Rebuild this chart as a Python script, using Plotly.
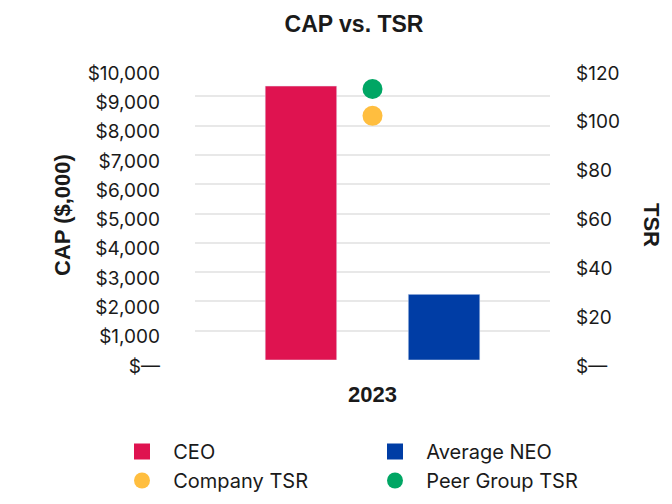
import plotly.graph_objects as go

years = ["2023"]
ceo_cap = [9350]
neo_cap = [2240]
company_tsr = [100]
peer_tsr = [111]

left_ticks = [0, 1000, 2000, 3000, 4000, 5000, 6000, 7000, 8000, 9000, 10000]
left_labels = ["$—", "$1,000", "$2,000", "$3,000", "$4,000", "$5,000", "$6,000",
               "$7,000", "$8,000", "$9,000", "$10,000"]
right_ticks = [0, 20, 40, 60, 80, 100, 120]
right_labels = ["$—", "$20", "$40", "$60", "$80", "$100", "$120"]

FONT = "Inter"
BOLD = "Liberation Sans"
TXT = "#1a1a1a"
C_CEO = "#DF1350"
C_NEO = "#003DA5"
C_CO = "#FFBE3F"
C_PEER = "#00A664"

OFF = 8  # default page body margin
W, H = 672, 504
PL, PR, PT, PB = 195, 550, 67, 360  # plot box in screen pixels
L, R, T, B = PL - OFF, W - (PR - OFF), PT - OFF, H - (PB - OFF)
PW, PH = PR - PL, PB - PT


def px(xs):
    return (xs - PL) / PW


def py(ys):
    return (PB - ys) / PH


fig = go.Figure()
fig.add_trace(go.Bar(x=years, y=ceo_cap, name="CEO", marker_color=C_CEO, showlegend=False))
fig.add_trace(go.Bar(x=years, y=neo_cap, name="Average NEO", marker_color=C_NEO, showlegend=False))
fig.add_trace(go.Scatter(x=years, y=company_tsr, name="Company TSR", mode="markers",
                         marker=dict(color=C_CO, size=20), yaxis="y2", showlegend=False))
fig.add_trace(go.Scatter(x=years, y=peer_tsr, name="Peer Group TSR", mode="markers",
                         marker=dict(color=C_PEER, size=20), yaxis="y2", showlegend=False))

# legend entries
PAD = "\u00a0\u00a0"
for name, col, sym in [("CEO", C_CEO, "square"), ("Average NEO", C_NEO, "square"),
                       ("Company TSR", C_CO, "circle"), ("Peer Group TSR", C_PEER, "circle")]:
    fig.add_trace(go.Scatter(x=[None], y=[None], mode="markers", name=PAD + name,
                             marker=dict(color=col, size=22, symbol=sym), showlegend=True))

fig.update_layout(
    width=W, height=H,
    margin=dict(l=L, r=R, t=T, b=B, autoexpand=False),
    paper_bgcolor="white", plot_bgcolor="white",
    font=dict(family=FONT, size=19, color=TXT),
    title=dict(text="<b>CAP vs. TSR</b>", x=(354 - OFF) / W, xref="container", xanchor="center",
               y=1 - (24 - OFF) / H, yref="container", yanchor="middle",
               font=dict(family=BOLD, size=23)),
    barmode="group", bargap=0.194, bargroupgap=0.5,
    xaxis=dict(type="category", showgrid=False, showline=False, ticks="",
               tickfont=dict(family=BOLD, size=22), ticklabelstandoff=19,
               tickvals=years, ticktext=["<b>2023</b>"]),
    yaxis=dict(range=[0, 10000], tickvals=left_ticks, ticktext=left_labels,
               showgrid=True, gridcolor="#e8e8e8", gridwidth=2, zeroline=False,
               showline=False, ticks="", ticklabelstandoff=34, ticklabelshift=6),
    yaxis2=dict(range=[0, 120], overlaying="y", side="right", tickvals=right_ticks,
                ticktext=right_labels, showgrid=False, zeroline=False, showline=False,
                ticks="", ticklabelstandoff=25, ticklabelshift=6),
    legend=dict(orientation="h", x=px(122), xanchor="left", y=py(432), yanchor="top",
                entrywidth=208, entrywidthmode="pixels", font=dict(size=20),
                itemsizing="trace", tracegroupgap=0),
    annotations=[
        dict(text="<b>CAP ($,000)</b>", textangle=-90, x=px(62), y=py(215),
             xref="paper", yref="paper", showarrow=False,
             font=dict(family=BOLD, size=22), xanchor="center", yanchor="middle"),
        dict(text="<b>TSR</b>", textangle=90, x=px(652), y=py(225),
             xref="paper", yref="paper", showarrow=False,
             font=dict(family=BOLD, size=22), xanchor="center", yanchor="middle"),
    ],
)
fig.write_html("out.html")
